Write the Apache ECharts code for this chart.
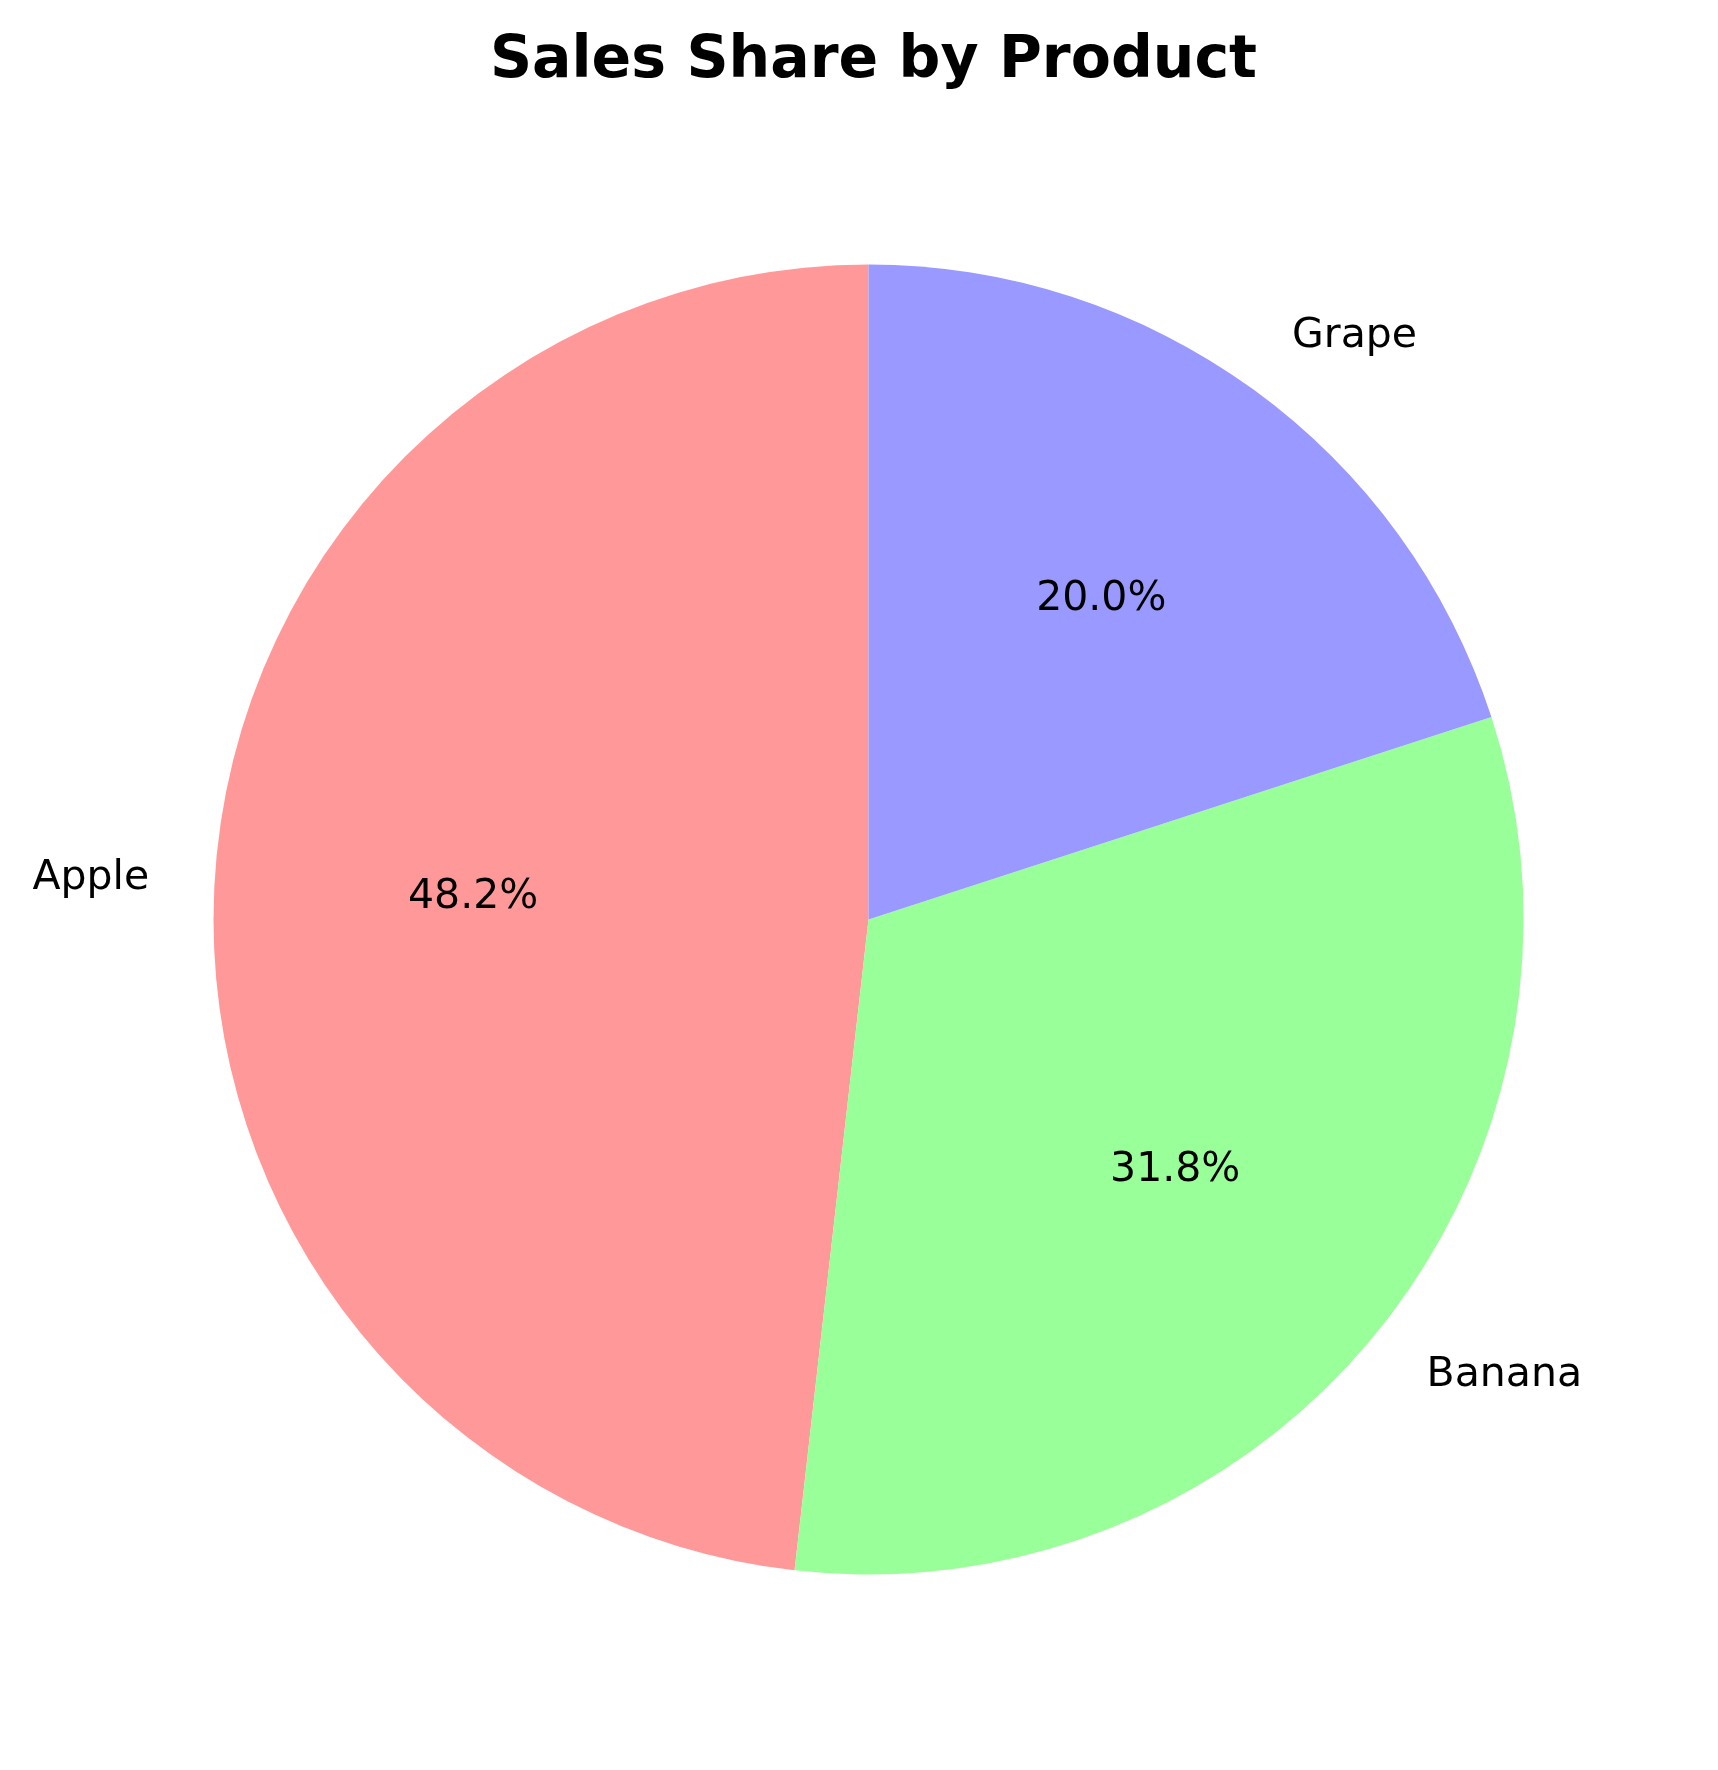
<!DOCTYPE html>
<html>
<head>
<meta charset="utf-8">
<script src="https://cdn.jsdelivr.net/npm/echarts@6/dist/echarts.min.js"></script>
<style>
  html, body { margin: 0; padding: 0; background: #fff; }
  #chart { width: 1718px; height: 1770px; }
</style>
</head>
<body>
<div id="chart"></div>
<script>
const products = ['Apple', 'Banana', 'Grape']
const shares = [48.2, 31.8, 20.0]
const colors = ['#ff9999', '#99ff99', '#9999ff']

const cx = 868.5
const cy = 919.5
const r = 655

const pieData = products.map((name, i) => ({
  name,
  value: shares[i],
  itemStyle: { color: colors[i] }
}))

const chart = echarts.init(document.getElementById('chart'))

chart.setOption({
  animation: false,
  title: {
    text: 'Sales Share by Product',
    // centred over the pie, not the page
    left: cx,
    textAlign: 'center',
    top: 27,
    textStyle: {
      fontFamily: 'DejaVu Sans',
      fontWeight: 'bold',
      fontSize: 58.5,
      color: '#000'
    }
  },
  series: [
    {
      // the pie itself, with names outside
      type: 'pie',
      center: [cx, cy],
      radius: [0, r],
      startAngle: 90,
      clockwise: false,
      avoidLabelOverlap: false,
      silent: true,
      data: pieData,
      label: {
        show: true,
        position: 'outside',
        formatter: '{b}',
        fontFamily: 'DejaVu Sans',
        fontSize: 41,
        color: '#000',
        distanceToLabelLine: 0
      },
      labelLine: {
        show: false,
        length: r * 0.1,
        length2: 0
      }
    },
    {
      // transparent twin at 1.2r so the inside labels sit at 0.6r
      type: 'pie',
      center: [cx, cy],
      radius: [0, r * 1.2],
      startAngle: 90,
      clockwise: false,
      avoidLabelOverlap: false,
      silent: true,
      data: products.map((name, i) => ({
        name,
        value: shares[i],
        itemStyle: { color: 'rgba(0,0,0,0)' }
      })),
      label: {
        show: true,
        position: 'inside',
        formatter: p => p.value.toFixed(1) + '%',
        fontFamily: 'DejaVu Sans',
        fontSize: 41,
        color: '#000'
      },
      labelLine: { show: false }
    }
  ]
})
</script>
</body>
</html>
